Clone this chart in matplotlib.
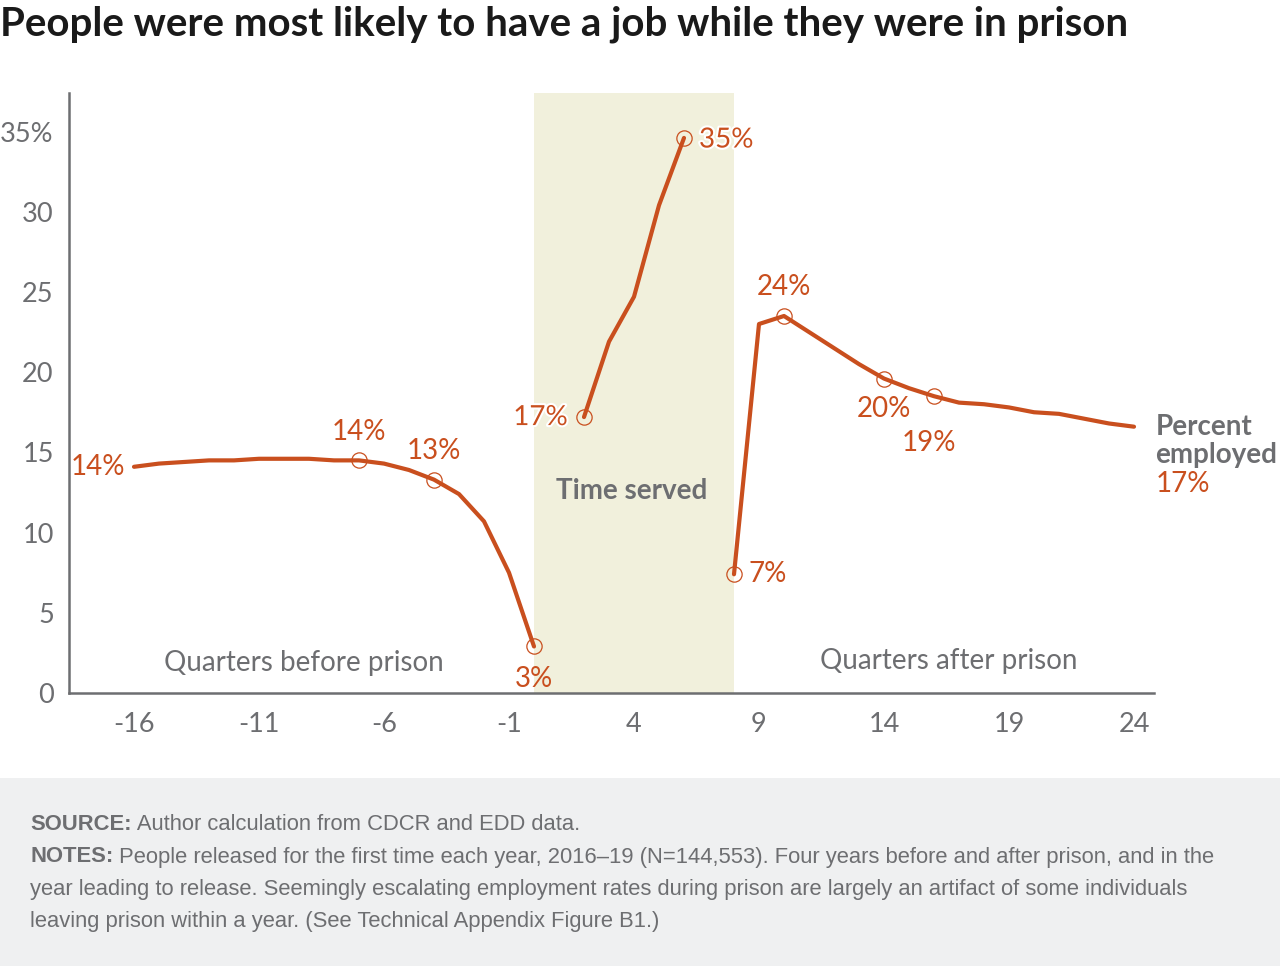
import matplotlib
matplotlib.use("Agg")
import matplotlib.pyplot as plt
import matplotlib.patheffects as pe
from matplotlib.patches import Rectangle

# ---- data ----
pre_x = list(range(-16, 1))
pre_y = [14.1, 14.3, 14.4, 14.5, 14.5, 14.6, 14.6, 14.6, 14.5, 14.5, 14.3, 13.9, 13.3, 12.4, 10.7, 7.5, 2.9]
in_x = [2, 3, 4, 5, 6]
in_y = [17.2, 21.9, 24.7, 30.4, 34.6]
post_x = list(range(8, 25))
post_y = [7.4, 23.0, 23.5, 22.5, 21.5, 20.5, 19.6, 19.0, 18.5, 18.1, 18.0, 17.8, 17.5, 17.4, 17.1, 16.8, 16.6]
marker_x = [-7, -4, 0, 2, 6, 8, 10, 14, 16]
x_ticks = [-16, -11, -6, -1, 4, 9, 14, 19, 24]
y_ticks = [0, 5, 10, 15, 20, 25, 30, 35]
y_tick_labels = ["0", "5", "10", "15", "20", "25", "30", "35%"]
prison_span = (0, 8)

ORANGE = "#c94f1e"
GREY = "#6d6e71"
SHADE = "#f1f0dc"
FONT = "Lato"
FS = 20

fig = plt.figure(figsize=(12.8, 9.66), dpi=100)
fig.patch.set_facecolor("white")

# footer
fig.patches.append(Rectangle((0, 0), 1, (966 - 778) / 966, transform=fig.transFigure,
                             facecolor="#eff0f1", edgecolor="none", zorder=0))

ax = fig.add_axes([69 / 1280, (966 - 693) / 966, (1154 - 69) / 1280, 600 / 966])
ax.set_xlim(-18.6, 24.8)
ax.set_ylim(0, 37.4)
ax.axvspan(prison_span[0], prison_span[1], color=SHADE, lw=0, zorder=0)

allx = {}
for xs, ys in [(pre_x, pre_y), (in_x, in_y), (post_x, post_y)]:
    ax.plot(xs, ys, color=ORANGE, lw=3, solid_joinstyle="round", solid_capstyle="round", zorder=3)
    for a, b in zip(xs, ys):
        allx[a] = b
mx = [x for x in marker_x]
my = [allx[x] for x in marker_x]
ax.plot(mx, my, ls="none", marker="o", ms=11, mfc="none", mec=ORANGE, mew=0.9, zorder=4)

for s in ["top", "right"]:
    ax.spines[s].set_visible(False)
for s in ["left", "bottom"]:
    ax.spines[s].set_color(GREY)
    ax.spines[s].set_linewidth(1.8)
ax.set_xticks(x_ticks)
ax.set_xticklabels([str(t) for t in x_ticks])
ax.set_yticks(y_ticks)
ax.set_yticklabels(y_tick_labels)
ax.tick_params(length=0, labelsize=19.5, colors=GREY, pad=14)
ax.tick_params(axis="y", pad=11)
for lab in ax.get_xticklabels() + ax.get_yticklabels():
    lab.set_fontfamily(FONT)

def lbl(x, y, t, ha="center", va="center", halo=False, **kw):
    txt = ax.text(x, y, t, color=ORANGE, fontsize=FS, fontfamily=FONT, ha=ha, va=va, zorder=5, **kw)
    if halo:
        txt.set_path_effects([pe.withStroke(linewidth=3, foreground="white")])
    return txt

lbl(-16.35, allx[-16], "14%", ha="right")
lbl(-7, allx[-7] + 1.8, "14%")
lbl(-4, allx[-4] + 1.8, "13%")
lbl(0, allx[0] - 2.0, "3%")
lbl(1.35, allx[2], "17%", ha="right", halo=True)
lbl(6.6, allx[6] - 0.1, "35%", ha="left", halo=True)
lbl(8.6, allx[8], "7%", ha="left")
lbl(10, allx[10] + 1.8, "24%")
lbl(14, allx[14] - 1.9, "20%")
lbl(15.8, allx[16] - 2.9, "19%")

ax.text(24.85, 15.7, "Percent\nemployed", color=GREY, fontsize=FS, fontweight="bold",
        fontfamily=FONT, ha="left", va="center", linespacing=1.1)
ax.text(24.85, 13.0, "17%", color=ORANGE, fontsize=FS, fontfamily=FONT, ha="left", va="center")
ax.text(3.9, 12.6, "Time served", color=GREY, fontsize=FS, fontweight="bold",
        fontfamily=FONT, ha="center", va="center")
ax.text(-9.2, 1.9, "Quarters before prison", color=GREY, fontsize=FS, fontfamily=FONT,
        ha="center", va="center")
ax.text(16.6, 2.0, "Quarters after prison", color=GREY, fontsize=FS, fontfamily=FONT,
        ha="center", va="center")

# title
fig.text(0.0, 1 - 24 / 966, "People were most likely to have a job while they were in prison",
         fontsize=29, fontweight="bold", fontfamily=FONT, color="#1a1a1a", ha="left", va="center")

# footer text
FF = "Liberation Sans"
fs = 15.8
lines = [
    ("SOURCE:", " Author calculation from CDCR and EDD data.", 825),
    ("NOTES:", " People released for the first time each year, 2016\u201319 (N=144,553). Four years before and after prison, and in the", 857),
    ("", "year leading to release. Seemingly escalating employment rates during prison are largely an artifact of some individuals", 889),
    ("", "leaving prison within a year. (See Technical Appendix Figure B1.)", 921),
]
renderer = fig.canvas.get_renderer()
for bold, rest, ypx in lines:
    x0 = 30 / 1280
    yf = 1 - ypx / 966
    if bold:
        t = fig.text(x0, yf, bold, fontsize=fs, fontweight="bold", fontfamily=FF, color=GREY, va="center")
        bb = t.get_window_extent(renderer)
        x0 = bb.x1 / fig.bbox.width
    fig.text(x0, yf, rest, fontsize=fs, fontfamily=FF, color=GREY, va="center")

fig.savefig("out.png", dpi=100)
